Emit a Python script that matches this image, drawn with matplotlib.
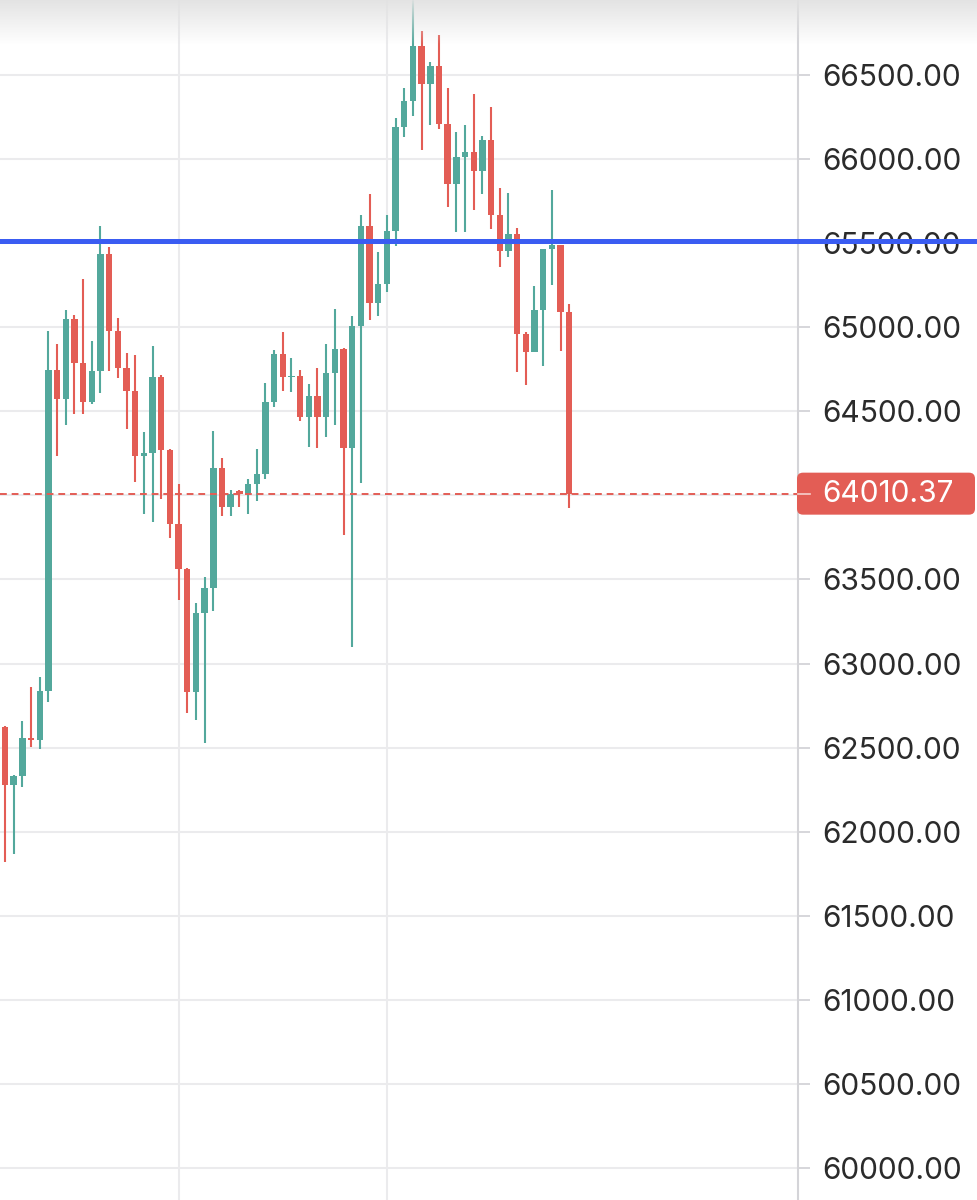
import numpy as np
import matplotlib
matplotlib.use("Agg")
import matplotlib.pyplot as plt
from matplotlib.patches import FancyBboxPatch
from matplotlib.transforms import IdentityTransform, blended_transform_factory

# candle data (oldest first)
opens = [62620, 62280, 62330, 62560, 62545, 62835, 64745, 64575, 65050, 64790,
         64555, 64740, 65435, 64980, 64760, 64620, 64235, 64255, 64705, 64270,
         63830, 63565, 62830, 63300, 63450, 64160, 63930, 64025, 64010, 64070,
         64125, 64555, 64840, 64705, 64712, 64465, 64590, 64465, 64725, 64870,
         64280, 65005, 65600, 65145, 65255, 65575, 66190, 66345, 66670, 66445,
         66555, 66210, 65850, 66015, 66045, 65930, 66115, 65665, 65455, 65555,
         64960, 64850, 65100, 65465, 65490, 65090]
highs = [62630, 62340, 62660, 62860, 62920, 64975, 64900, 65105, 65070, 65285,
         64920, 65605, 65475, 65055, 64845, 64835, 64375, 64890, 64715, 64275,
         64065, 63570, 63360, 63515, 64385, 64220, 64035, 64030, 64095, 64275,
         64670, 64865, 64970, 64815, 64745, 64665, 64755, 64900, 65110, 64875,
         65065, 65665, 65795, 65445, 65665, 66245, 66420, 66945, 66760, 66575,
         66740, 66420, 66160, 66200, 66385, 66135, 66310, 65830, 65800, 65590,
         64970, 65245, 65465, 65815, 65490, 65140]
lows = [61820, 61870, 62265, 62505, 62490, 62770, 64235, 64420, 64485, 64485,
        64545, 64610, 64740, 64700, 64395, 64080, 63890, 63840, 63980, 63745,
        63380, 62705, 62665, 62530, 63310, 63880, 63880, 63930, 63890, 63965,
        64095, 64525, 64620, 64615, 64445, 64285, 64280, 64350, 64420, 63765,
        63100, 64075, 65045, 65065, 65210, 65485, 66130, 66255, 66055, 66205,
        66180, 65715, 65565, 65565, 65700, 65795, 65585, 65360, 65420, 64735,
        64655, 64850, 64770, 65250, 64860, 63925]
closes = [62280, 62330, 62560, 62545, 62835, 64745, 64575, 65050, 64790, 64555,
          64740, 65435, 64980, 64760, 64620, 64235, 64255, 64705, 64270, 63830,
          63565, 62830, 63300, 63450, 64160, 63930, 64010, 64010, 64070, 64125,
          64555, 64840, 64705, 64712, 64465, 64590, 64465, 64725, 64870, 64280,
          65005, 65600, 65145, 65255, 65575, 66190, 66345, 66670, 66445, 66555,
          66210, 65850, 66015, 66045, 65930, 66115, 65665, 65455, 65555, 64960,
          64850, 65100, 65465, 65490, 65090, 64010.37]

last_price = 64010.37
level_line = 65510
price_ticks = [60000, 60500, 61000, 61500, 62000, 62500, 63000, 63500,
               64000, 64500, 65000, 65500, 66000, 66500]
time_grid = [20, 44]

UP = "#53a89c"
DOWN = "#e35d55"
TXT = "#2b2b2b"
GRID = "#ebebed"

plt.rcParams["font.family"] = ["Inter", "DejaVu Sans"]

fig = plt.figure(figsize=(9.78, 12), dpi=100)
ax = fig.add_axes([0, 0, 798 / 978, 1])

o = np.array(opens, dtype=float)
h = np.array(highs, dtype=float)
l = np.array(lows, dtype=float)
c = np.array(closes, dtype=float)
idx = np.arange(len(o))
cols = np.where(c >= o, UP, DOWN)

ax.vlines(idx, l, h, colors=cols, linewidth=1.5, zorder=3)
body_lo = np.minimum(o, c)
body_h = np.maximum(np.abs(c - o), 8)
ax.bar(idx, body_h, bottom=body_lo, width=0.74, color=cols, linewidth=0, zorder=4)

# grid
for p in price_ticks:
    ax.axhline(p, color=GRID, lw=1.5, zorder=1)
for g in time_grid:
    ax.axvline(g, color=GRID, lw=1.5, zorder=1)

# horizontal level (runs over the price scale too) and last price line
ax.axhline(level_line, xmin=0, xmax=978 / 798, color="#3a5cf2", lw=3.6,
           zorder=6, clip_on=False)
ax.axhline(last_price, color=DOWN, lw=1.4, ls=(0, (3.5, 2.5)), zorder=5)

ax.set_xlim(-0.576, 91.36)
ax.set_ylim(59810, 66946)

for s in ["top", "left", "bottom"]:
    ax.spines[s].set_visible(False)
ax.spines["right"].set_color("#d4d4d8")
ax.spines["right"].set_linewidth(1.5)
ax.set_xticks([])
ax.yaxis.tick_right()
ax.set_yticks(price_ticks)
# the 64000 label sits under the last-price badge
ax.set_yticklabels(["" if p == 64000 else f"{p:.2f}" for p in price_ticks])
ax.tick_params(axis="y", length=8.5, width=1.2, color="#d0d0d4", pad=9,
               labelsize=21.5, labelcolor=TXT)

# label cut off at the top
tr = blended_transform_factory(fig.transFigure, ax.transData)
ax.text(823 / 978, 67000, "67000.00", transform=tr, ha="left", va="center",
        fontsize=21.5, color=TXT, clip_on=False)

# last price badge on the axis
ypx = ax.transData.transform((0, last_price))[1]
badge = FancyBboxPatch((797, ypx - 21), 178, 42,
                       boxstyle="round,pad=0,rounding_size=6",
                       transform=IdentityTransform(), fc=DOWN, ec="none", zorder=10)
fig.add_artist(badge)
fig.add_artist(plt.Line2D([798, 810], [ypx, ypx], transform=IdentityTransform(),
                          color="#f6d0cd", lw=1.2, zorder=11))
fig.text(822, ypx, "64010.37", transform=IdentityTransform(), ha="left",
         va="center", fontsize=21.5, color="white", zorder=12)

# grey fade along the top edge of the screenshot
fade = fig.add_axes([0, 1 - 45 / 1200, 1, 45 / 1200], zorder=20)
grad = np.zeros((45, 2, 4))
grad[..., :3] = 0.89
grad[..., 3] = np.linspace(0.95, 0.0, 45)[:, None]
fade.imshow(grad, aspect="auto", extent=(0, 1, 0, 1))
fade.axis("off")

fig.savefig("out.png", dpi=100)
